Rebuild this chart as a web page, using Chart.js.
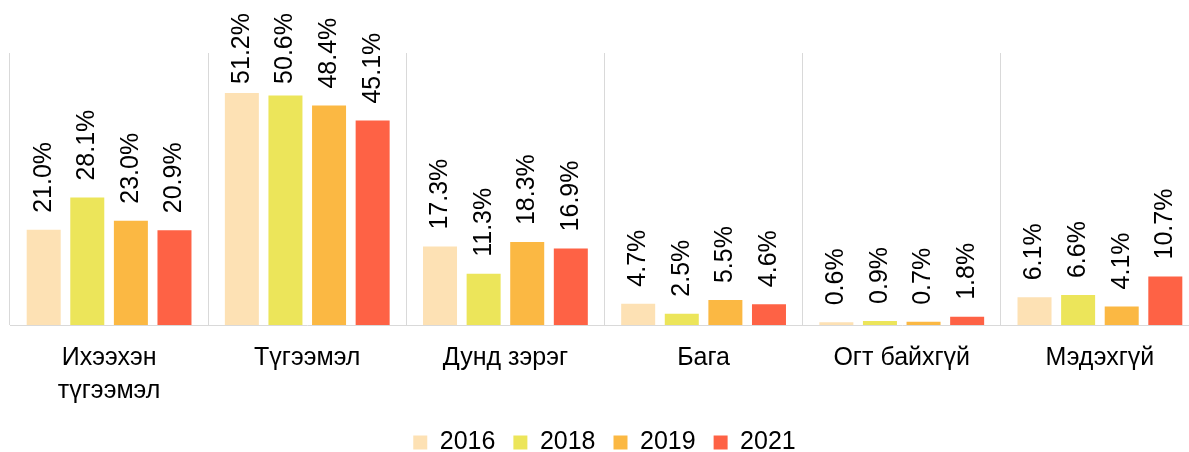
<!DOCTYPE html>
<html>
<head>
<meta charset="utf-8">
<script src="https://cdn.jsdelivr.net/npm/chart.js@4/dist/chart.umd.min.js"></script>
<style>
    html, body { margin: 0; padding: 0; background: #fff; overflow: hidden; }
    #wrap { width: 1189px; height: 452px; overflow: hidden; position: relative; }
    #box { width: 1205px; height: 465px; position: absolute; left: 0; top: 0; }
</style>
</head>
<body>
<div id="wrap"><div id="box"><canvas id="chart"></canvas></div></div>
<script>
const categories = [['Ихээхэн', 'түгээмэл'], 'Түгээмэл', 'Дунд зэрэг', 'Бага', 'Огт байхгүй', 'Мэдэхгүй'];
const years = ['2016', '2018', '2019', '2021'];
const v2016 = [21.0, 51.2, 17.3, 4.7, 0.6, 6.1];
const v2018 = [28.1, 50.6, 11.3, 2.5, 0.9, 6.6];
const v2019 = [23.0, 48.4, 18.3, 5.5, 0.7, 4.1];
const v2021 = [20.9, 45.1, 16.9, 4.6, 1.8, 10.7];
const colors = ['#fde1b4', '#ece55a', '#fbb843', '#fe6245'];

const FONT = "'Liberation Sans', Arial, sans-serif";

// value labels, rotated, sitting above each bar
const barLabels = {
    id: 'barLabels',
    afterDatasetsDraw(chart) {
        const ctx = chart.ctx;
        ctx.save();
        ctx.font = '25px ' + FONT;
        ctx.fillStyle = '#000';
        ctx.textAlign = 'left';
        ctx.textBaseline = 'middle';
        chart.data.datasets.forEach((ds, i) => {
            chart.getDatasetMeta(i).data.forEach((bar, j) => {
                const txt = ds.data[j].toFixed(1) + '%';
                const w = ctx.measureText(txt).width;
                let start = bar.y - 17;
                if (start - w < 13) start = 13 + w;
                ctx.save();
                ctx.translate(bar.x, start);
                ctx.rotate(-Math.PI / 2);
                ctx.fillText(txt, 0, 0);
                ctx.restore();
            });
        });
        ctx.restore();
    }
};

new Chart(document.getElementById('chart'), {
    type: 'bar',
    data: {
        labels: categories,
        datasets: [v2016, v2018, v2019, v2021].map((d, i) => ({
            label: years[i],
            data: d,
            backgroundColor: colors[i],
            categoryPercentage: 0.88,
            barPercentage: 0.78
        }))
    },
    options: {
        responsive: true,
        maintainAspectRatio: false,
        animation: false,
        layout: { padding: { left: 10, right: 6, top: 53, bottom: 0 } },
        scales: {
            y: { display: false, min: 0, max: 60 },
            x: {
                grid: { color: '#d9d9d9', lineWidth: 1, drawTicks: false, offset: true },
                border: { display: true, color: '#d9d9d9' },
                ticks: {
                    color: '#000',
                    padding: 17,
                    maxRotation: 0,
                    autoSkip: false,
                    font: { family: FONT, size: 25, lineHeight: 1.3 }
                },
                afterFit: s => { s.height = 87; }
            }
        },
        plugins: {
            legend: {
                position: 'bottom',
                labels: {
                    boxWidth: 14,
                    boxHeight: 14,
                    padding: 18,
                    color: '#000',
                    font: { family: FONT, size: 25 }
                }
            },
            tooltip: { enabled: false }
        }
    },
    plugins: [barLabels]
});
</script>
</body>
</html>
